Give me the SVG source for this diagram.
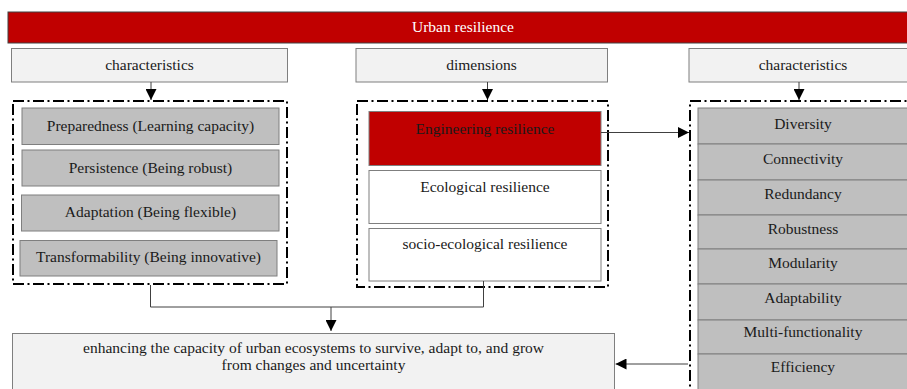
<svg xmlns="http://www.w3.org/2000/svg" width="907" height="389" viewBox="0 0 907 389" font-family="'Liberation Serif', 'Times New Roman', serif">
<style>
text{font-family:'Liberation Serif','Times New Roman',serif;font-size:15.5px;fill:#1a1a1a;text-anchor:middle}
.head{fill:#f2f2f2;stroke:#7f7f7f;stroke-width:1}
.item{fill:#bfbfbf;stroke:#7f7f7f;stroke-width:1}
.white{fill:#ffffff;stroke:#7f7f7f;stroke-width:1}
.grp{fill:none;stroke:#000;stroke-width:2;stroke-dasharray:11 3.5 2 3.5}
.line{fill:none;stroke:#404040;stroke-width:1}
</style>
<defs>
<marker id="arr" markerWidth="11" markerHeight="11" refX="11" refY="5.5" orient="auto" markerUnits="userSpaceOnUse">
<path d="M0,0 L11,5.5 L0,11 Z" fill="#000"/>
</marker>
</defs>
<rect width="907" height="389" fill="#fff"/>

<g id="title">
<rect x="8" y="12" width="910" height="31" fill="#c00000" stroke="#404040" stroke-width="1"/>
<text x="463" y="32" font-family="Liberation Serif" style="fill:#fff">Urban resilience</text>
</g>

<g id="char-left-head">
<rect class="head" x="11.5" y="48.5" width="276" height="33.5"/>
<text x="149.5" y="69.5" font-family="Liberation Serif">characteristics</text>
</g>
<g id="dim-head">
<rect class="head" x="356" y="48.5" width="251.5" height="33.5"/>
<text x="481.5" y="69.5" font-family="Liberation Serif">dimensions</text>
</g>
<g id="char-right-head">
<rect class="head" x="689" y="48.5" width="230" height="33.5"/>
<text x="803" y="69.5" font-family="Liberation Serif">characteristics</text>
</g>

<g id="left-group">
<rect class="grp" x="13" y="101" width="274" height="183"/>
</g>
<g id="preparedness">
<rect class="item" x="22" y="108" width="257" height="36.5"/>
<text x="150.5" y="130.5" font-family="Liberation Serif">Preparedness (Learning capacity)</text>
</g>
<g id="persistence">
<rect class="item" x="22" y="150" width="257" height="36"/>
<text x="150.5" y="172.5" font-family="Liberation Serif">Persistence (Being robust)</text>
</g>
<g id="adaptation">
<rect class="item" x="21.5" y="195" width="257.5" height="36"/>
<text x="150.5" y="217" font-family="Liberation Serif">Adaptation (Being flexible)</text>
</g>
<g id="transformability">
<rect class="item" x="20" y="240.5" width="257" height="35.5"/>
<text x="148.5" y="261.5" font-family="Liberation Serif">Transformability (Being innovative)</text>
</g>

<g id="middle-group">
<rect class="grp" x="357" y="101" width="251" height="186"/>
</g>
<g id="engineering">
<rect x="369" y="111.5" width="232" height="54" fill="#c00000" stroke="#7f7f7f" stroke-width="1"/>
<text x="485" y="133.5" font-family="Liberation Serif">Engineering resilience</text>
</g>
<g id="ecological">
<rect class="white" x="369" y="170.5" width="232" height="53"/>
<text x="485" y="191.5" font-family="Liberation Serif">Ecological resilience</text>
</g>
<g id="socio-ecological">
<rect class="white" x="369" y="228.5" width="232" height="52.5"/>
<text x="485" y="249" font-family="Liberation Serif">socio-ecological resilience</text>
</g>

<g id="right-group">
<rect class="grp" x="690" y="101" width="240" height="300"/>
</g>
<g id="diversity"><rect class="item" x="698" y="108" width="212" height="36"/><text x="803" y="129" font-family="Liberation Serif">Diversity</text></g>
<g id="connectivity"><rect class="item" x="698" y="144" width="212" height="36"/><text x="803" y="164" font-family="Liberation Serif">Connectivity</text></g>
<g id="redundancy"><rect class="item" x="698" y="180" width="212" height="35"/><text x="803" y="199" font-family="Liberation Serif">Redundancy</text></g>
<g id="robustness"><rect class="item" x="698" y="215" width="212" height="34"/><text x="803" y="233.5" font-family="Liberation Serif">Robustness</text></g>
<g id="modularity"><rect class="item" x="698" y="249" width="212" height="35"/><text x="803" y="268" font-family="Liberation Serif">Modularity</text></g>
<g id="adaptability"><rect class="item" x="698" y="284" width="212" height="36"/><text x="803" y="302.5" font-family="Liberation Serif">Adaptability</text></g>
<g id="multi-functionality"><rect class="item" x="698" y="320" width="212" height="34"/><text x="803" y="336.5" font-family="Liberation Serif">Multi-functionality</text></g>
<g id="efficiency"><rect class="item" x="698" y="354" width="212" height="40"/><text x="803" y="371.5" font-family="Liberation Serif">Efficiency</text></g>

<g id="outcome">
<rect class="head" x="12.5" y="333.5" width="602" height="60"/>
<text x="313.5" y="353" font-family="Liberation Serif">enhancing the capacity of urban ecosystems to survive, adapt to, and grow</text>
<text x="313.5" y="370" font-family="Liberation Serif">from changes and uncertainty</text>
</g>

<g id="connectors">
<line class="line" x1="151" y1="82" x2="151" y2="100" marker-end="url(#arr)"/>
<line class="line" x1="487.5" y1="82" x2="487.5" y2="100" marker-end="url(#arr)"/>
<line class="line" x1="799" y1="82" x2="799" y2="100" marker-end="url(#arr)"/>
<line class="line" x1="601" y1="132.5" x2="689" y2="132.5" marker-end="url(#arr)"/>
<polyline class="line" points="150.5,285 150.5,307 483.5,307 483.5,281"/>
<line class="line" x1="331" y1="307" x2="331" y2="331" marker-end="url(#arr)"/>
<line class="line" x1="688" y1="364" x2="615.5" y2="364" marker-end="url(#arr)"/>
</g>
</svg>
